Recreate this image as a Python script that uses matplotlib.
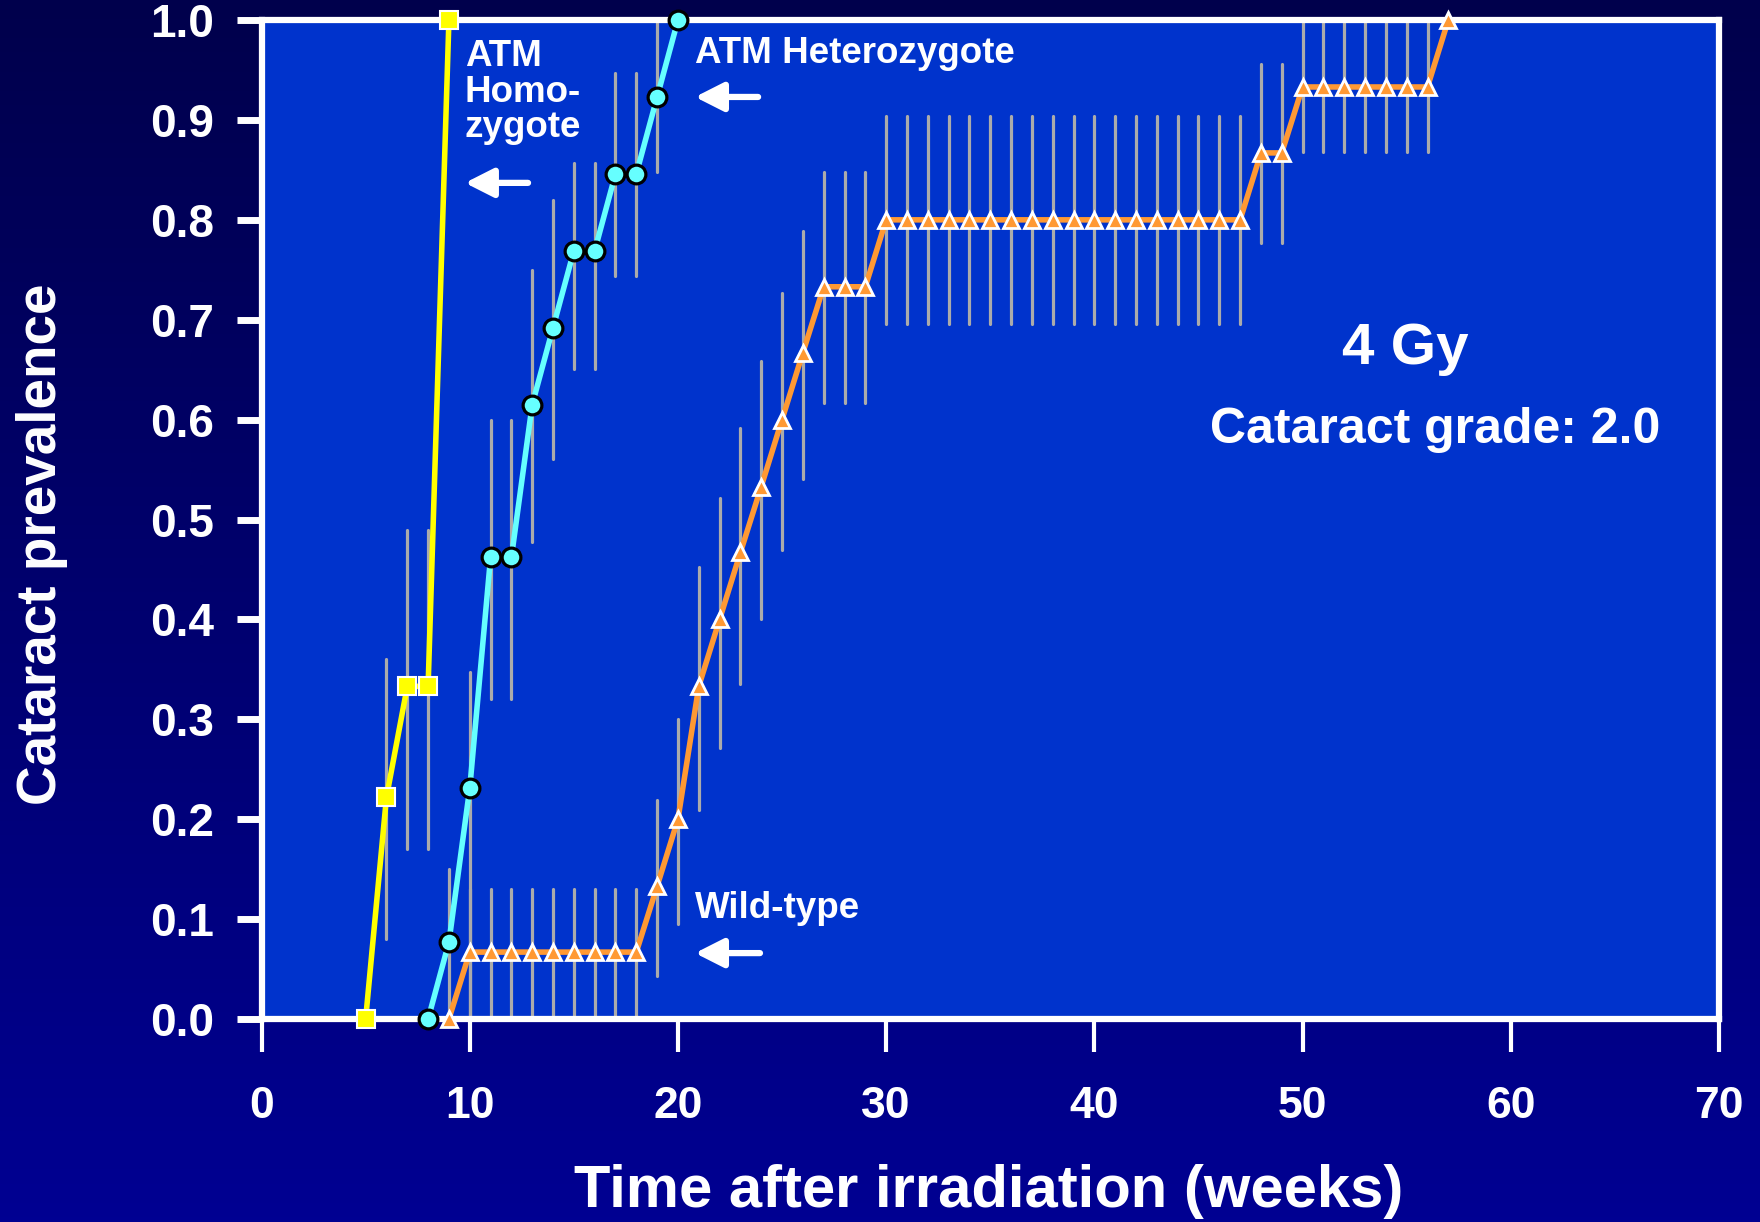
import numpy as np
import matplotlib
matplotlib.use('Agg')
import matplotlib.pyplot as plt
from matplotlib.colors import LinearSegmentedColormap

plt.rcParams['font.family'] = ['Liberation Sans', 'DejaVu Sans']
plt.rcParams['font.weight'] = 'bold'

# ATM homozygote (squares)
homo_x = [5, 6, 7, 8, 9]
homo_y = [0.0, 0.222, 0.333, 0.333, 1.0]
homo_lo = [0.0, 0.08, 0.17, 0.17, 1.0]
homo_hi = [0.0, 0.36, 0.49, 0.49, 1.0]

# ATM heterozygote (circles)
het_x = [8, 9, 10, 11, 12, 13, 14, 15, 16, 17, 18, 19, 20]
het_y = [0.0, 0.077, 0.231, 0.462, 0.462, 0.615, 0.692, 0.769, 0.769, 0.846, 0.846, 0.923, 1.0]
het_lo = [0.0, 0.0, 0.0, 0.32, 0.32, 0.478, 0.561, 0.651, 0.651, 0.744, 0.744, 0.848, 1.0]
het_hi = [0.0, 0.15, 0.347, 0.60, 0.60, 0.75, 0.82, 0.857, 0.857, 0.947, 0.947, 0.998, 1.0]

# wild-type (triangles)
wt_x = [9, 10, 11, 12, 13, 14, 15, 16, 17, 18, 19, 20, 21, 22, 23, 24, 25, 26, 27, 28, 29,
        30, 31, 32, 33, 34, 35, 36, 37, 38, 39, 40, 41, 42, 43, 44, 45, 46, 47,
        48, 49, 50, 51, 52, 53, 54, 55, 56, 57]
wt_y = [0.0, 0.067, 0.067, 0.067, 0.067, 0.067, 0.067, 0.067, 0.067, 0.067,
        0.133, 0.2, 0.333, 0.4, 0.467, 0.533, 0.6, 0.667, 0.733, 0.733, 0.733,
        0.8, 0.8, 0.8, 0.8, 0.8, 0.8, 0.8, 0.8, 0.8, 0.8, 0.8, 0.8, 0.8, 0.8, 0.8, 0.8, 0.8, 0.8,
        0.867, 0.867, 0.933, 0.933, 0.933, 0.933, 0.933, 0.933, 0.933, 1.0]
wt_lo = [0.0, 0.0, 0.0, 0.0, 0.0, 0.0, 0.0, 0.0, 0.0, 0.0,
         0.043, 0.095, 0.209, 0.271, 0.335, 0.400, 0.470, 0.541, 0.617, 0.617, 0.617,
         0.696, 0.696, 0.696, 0.696, 0.696, 0.696, 0.696, 0.696, 0.696, 0.696, 0.696, 0.696,
         0.696, 0.696, 0.696, 0.696, 0.696, 0.696,
         0.777, 0.777, 0.868, 0.868, 0.868, 0.868, 0.868, 0.868, 0.868, 1.0]
wt_hi = [0.0, 0.13, 0.13, 0.13, 0.13, 0.13, 0.13, 0.13, 0.13, 0.13,
         0.219, 0.300, 0.452, 0.522, 0.592, 0.659, 0.727, 0.789, 0.848, 0.848, 0.848,
         0.904, 0.904, 0.904, 0.904, 0.904, 0.904, 0.904, 0.904, 0.904, 0.904, 0.904, 0.904,
         0.904, 0.904, 0.904, 0.904, 0.904, 0.904,
         0.956, 0.956, 0.998, 0.998, 0.998, 0.998, 0.998, 0.998, 0.998, 1.0]

x_ticks = [0, 10, 20, 30, 40, 50, 60, 70]
y_ticks = [0.0, 0.1, 0.2, 0.3, 0.4, 0.5, 0.6, 0.7, 0.8, 0.9, 1.0]

fig = plt.figure(figsize=(17.6, 12.22), dpi=100)

# dark navy gradient background
bg = fig.add_axes([0, 0, 1, 1], zorder=0)
grad = np.linspace(0, 1, 256).reshape(-1, 1)
cmap = LinearSegmentedColormap.from_list('bg', ['#00004c', '#000092'])
bg.imshow(grad, aspect='auto', cmap=cmap, extent=[0, 1, 0, 1], origin='upper')
bg.axis('off')

ax = fig.add_axes([0.1486, 0.1661, 0.8281, 0.8175], zorder=1)
ax.set_facecolor('#0033cc')
ax.set_xlim(0, 70)
ax.set_ylim(0, 1)

for s in ax.spines.values():
    s.set_color('white')
    s.set_linewidth(4.5)
    s.set_zorder(2.5)

ax.set_xticks(x_ticks)
ax.set_xticklabels([str(v) for v in x_ticks])
ax.set_yticks(y_ticks)
ax.set_yticklabels(['%.1f' % v for v in y_ticks])
ax.tick_params(axis='x', direction='out', length=24, width=3, color='white',
               labelcolor='white', labelsize=32, pad=24)
ax.tick_params(axis='y', direction='out', length=18, width=5, color='white',
               labelcolor='white', labelsize=33, pad=16)

# error bars
grey = '#ababab'
for xs, lo, hi in [(homo_x, homo_lo, homo_hi), (het_x, het_lo, het_hi), (wt_x, wt_lo, wt_hi)]:
    vl = ax.vlines(xs, lo, hi, colors=grey, linewidth=2.3, zorder=2)
    vl.set_capstyle('round')

# lines
ax.plot(wt_x, wt_y, color='#ff9933', lw=4, zorder=3, clip_on=False)
ax.plot(het_x, het_y, color='#66ffff', lw=4, zorder=3, clip_on=False)
ax.plot(homo_x, homo_y, color='#ffff00', lw=4, zorder=3, clip_on=False)

# markers
ax.plot(wt_x, wt_y, ls='none', marker='^', ms=11, mfc='#ff9933', mec='white', mew=2,
        zorder=4, clip_on=False)
ax.plot(het_x, het_y, ls='none', marker='o', ms=13.5, mfc='#66ffff', mec='black', mew=2.3,
        zorder=4, clip_on=False)
ax.plot(homo_x, homo_y, ls='none', marker='s', ms=12.5, mfc='#ffff00', mec='white', mew=1.5,
        zorder=4, clip_on=False)

# labels
ax.set_xlabel('Time after irradiation (weeks)', color='white', fontsize=43, fontweight='bold')
ax.xaxis.label.set_va('baseline')
ax.xaxis.set_label_coords(0.499, -0.188)
ax.set_ylabel('Cataract prevalence', color='white', fontsize=39.5, fontweight='bold')
ax.yaxis.label.set_va('center')
ax.yaxis.set_label_coords(-0.1506, 0.475)

# annotations
tkw = dict(color='white', fontsize=26.5, fontweight='bold', va='baseline', ha='left', zorder=5)
ax.text(9.77, 0.883, 'ATM\nHomo-\nzygote', linespacing=1.01, **tkw)
ax.text(20.82, 0.957, 'ATM Heterozygote', **tkw)
ax.text(20.82, 0.101, 'Wild-type', **tkw)

akw = dict(arrowstyle='-|>,head_length=0.75,head_width=0.38', color='white', lw=4.5,
           shrinkA=0, shrinkB=0, mutation_scale=23)
ax.annotate('', xy=(9.77, 0.837), xytext=(12.8, 0.837), arrowprops=akw, zorder=5)
ax.annotate('', xy=(20.82, 0.923), xytext=(23.85, 0.923), arrowprops=akw, zorder=5)
ax.annotate('', xy=(20.82, 0.066), xytext=(23.94, 0.066), arrowprops=akw, zorder=5)

ax.text(54.92, 0.656, '4 Gy', color='white', fontsize=42, fontweight='bold',
        ha='center', va='baseline')
ax.text(56.39, 0.577, 'Cataract grade: 2.0', color='white', fontsize=36, fontweight='bold',
        ha='center', va='baseline')

fig.savefig('out.png', dpi=100, facecolor=fig.get_facecolor())
